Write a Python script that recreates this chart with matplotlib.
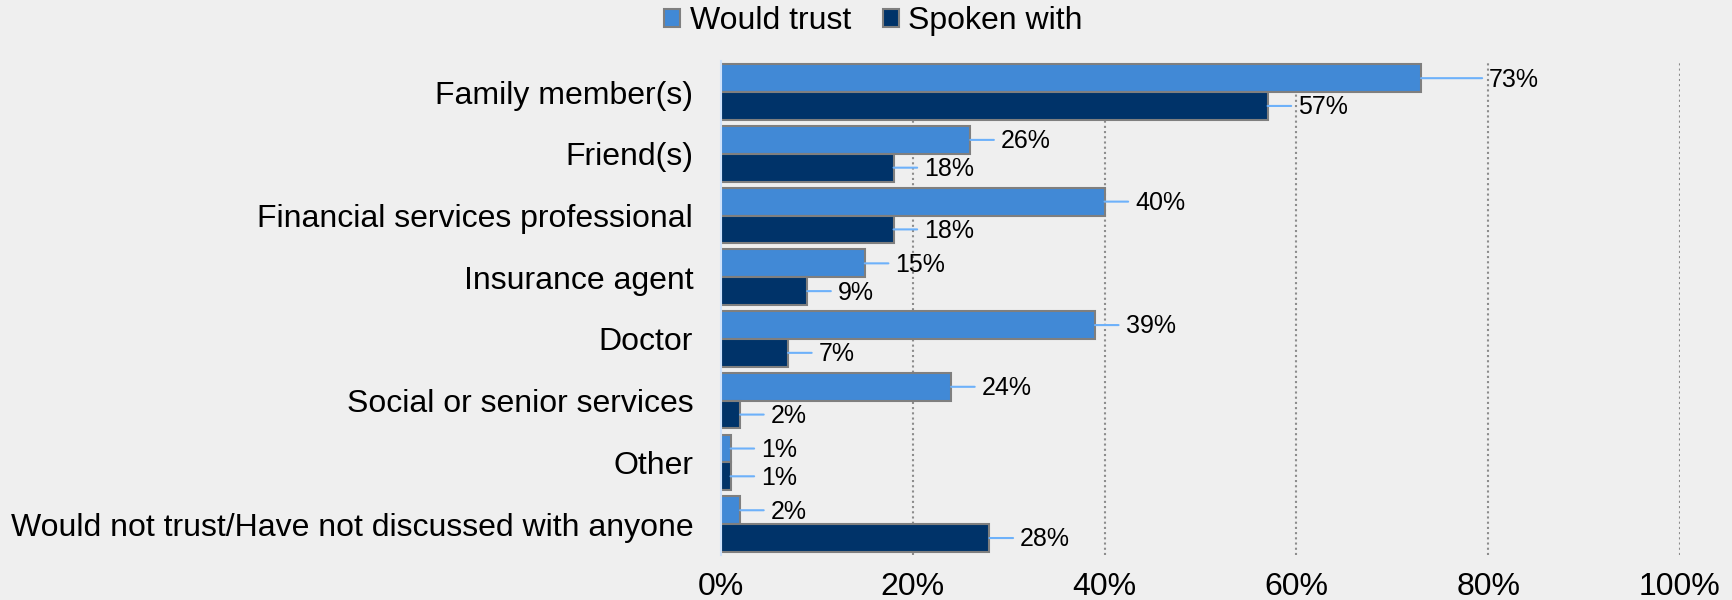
import numpy as np
import matplotlib.pyplot as plt

plt.rcParams['font.family'] = ['Liberation Sans', 'DejaVu Sans']

categories = ["Family member(s)", "Friend(s)", "Financial services professional",
              "Insurance agent", "Doctor", "Social or senior services", "Other",
              "Would not trust/Have not discussed with anyone"]
would_trust = [73, 26, 40, 15, 39, 24, 1, 2]
spoken_with = [57, 18, 18, 9, 7, 2, 1, 28]
xticks = [0, 20, 40, 60, 80, 100]

c_trust = "#4189d6"
c_spoken = "#003369"
bg = "#efefef"

fig = plt.figure(figsize=(17.33, 6), dpi=100, facecolor=bg)
ax = fig.add_axes([0.416, 0.075, 0.5534, 0.823], facecolor=bg)

y = np.arange(len(categories))
h = 0.45
b1 = ax.barh(y - h / 2, would_trust, height=h, color=c_trust, edgecolor="#7f7f7f",
             linewidth=1.5, label="Would trust", zorder=3)
b2 = ax.barh(y + h / 2, spoken_with, height=h, color=c_spoken, edgecolor="#7f7f7f",
             linewidth=1.5, label="Spoken with", zorder=3)

# value labels with short leader lines
for bars, vals in ((b1, would_trust), (b2, spoken_with)):
    for bar, v in zip(bars, vals):
        yc = bar.get_y() + bar.get_height() / 2
        lead = 44 if v == 73 else 17
        ax.annotate("", xy=(v, yc), xytext=(lead, 0), textcoords="offset points",
                    arrowprops=dict(arrowstyle="-", color="#6db1fa", lw=1.5,
                                    shrinkA=0, shrinkB=0))
        ax.annotate(f"{v}%", xy=(v, yc), xytext=(lead + 5, -1),
                    textcoords="offset points", ha="left", va="center",
                    fontsize=18, color="black")

ax.set_xlim(0, 100)
ax.set_ylim(len(categories) - 0.5, -0.5)
ax.set_yticks(y)
ax.set_yticklabels(categories, fontsize=23)
ax.set_xticks(xticks)
ax.set_xticklabels([f"{t}%" for t in xticks], fontsize=23)
ax.tick_params(axis="both", length=0)
ax.tick_params(axis="y", pad=20)
ax.tick_params(axis="x", pad=12)

for t in xticks[1:]:
    ax.axvline(t, color="#8c8c8c", linestyle=(0, (1, 1.5)), lw=1.5, zorder=1)

for s in ("top", "right", "bottom"):
    ax.spines[s].set_visible(False)
ax.spines["left"].set_color("#cfe2fb")
ax.spines["left"].set_linewidth(1.5)
ax.spines["left"].set_zorder(4)

fig.legend(handles=[b1, b2], loc="center", bbox_to_anchor=(0.504, 0.965), ncol=2,
           frameon=False, fontsize=23, handlelength=0.5, handleheight=0.5,
           handletextpad=0.3, columnspacing=1.0)

fig.savefig("out.png", dpi=100, facecolor=bg)
